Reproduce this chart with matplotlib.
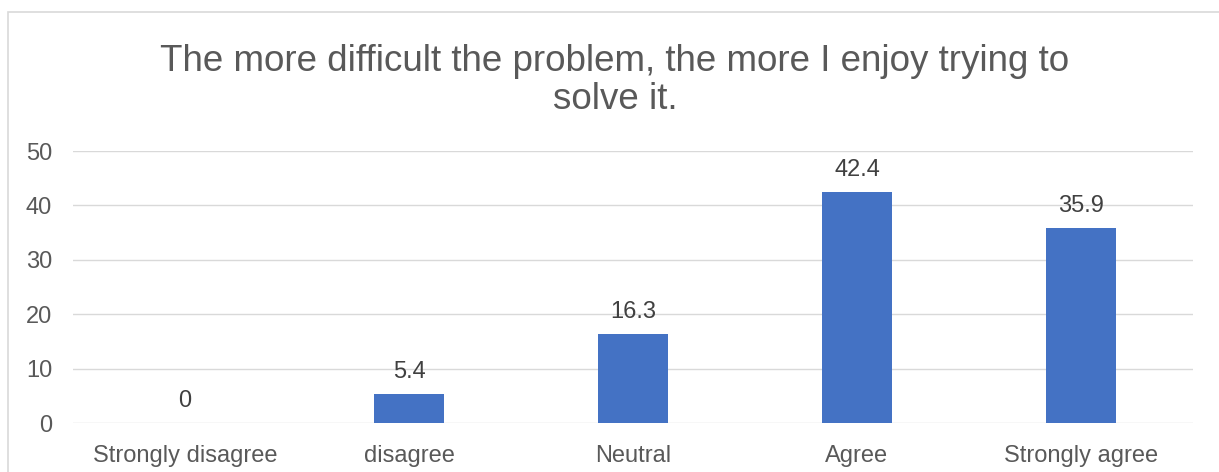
import matplotlib.pyplot as plt
from matplotlib.patches import Rectangle

categories = ["Strongly disagree", "disagree", "Neutral", "Agree", "Strongly agree"]
values = [0, 5.4, 16.3, 42.4, 35.9]
yticks = [0, 10, 20, 30, 40, 50]

plt.rcParams["font.family"] = ["Liberation Sans", "DejaVu Sans"]

W, H = 1219, 472
fig = plt.figure(figsize=(W / 100, H / 100), dpi=100)
ax = fig.add_axes([73 / W, 1 - 423 / H, (1193 - 73) / W, (423 - 151) / H])

x = range(len(categories))
bars = ax.bar(x, values, width=0.3125, color="#4472C4", zorder=3)

# value labels above each bar
for b, v in zip(bars, values):
    ax.annotate(f"{v:g}", (b.get_x() + b.get_width() / 2, v),
                xytext=(0, 16), textcoords="offset pixels",
                ha="center", va="baseline", fontsize=17, color="#404040")

ax.set_xlim(-0.5, len(categories) - 0.5)
ax.set_ylim(0, 50)
ax.set_yticks(yticks)
ax.set_xticks(list(x))
ax.set_xticklabels(categories)
ax.tick_params(axis="both", length=0, labelsize=17, labelcolor="#595959")
ax.tick_params(axis="x", pad=16)
ax.tick_params(axis="y", pad=15)
ax.grid(axis="y", color="#d9d9d9", linewidth=1.0, zorder=0)
for s in ax.spines.values():
    s.set_visible(False)

fig.text(615 / W, 1 - 109 / H,
         "The more difficult the problem, the more I enjoy trying to\nsolve it.",
         ha="center", va="baseline", fontsize=26.5, color="#595959",
         linespacing=1.12)

# chart frame
fig.add_artist(Rectangle((7.5 / W, -0.1), 1.2, 1 - 11.5 / H + 0.1,
                         transform=fig.transFigure, fill=False,
                         edgecolor="#d9d9d9", linewidth=1.2, clip_on=False))

fig.savefig("out.png", dpi=100)
